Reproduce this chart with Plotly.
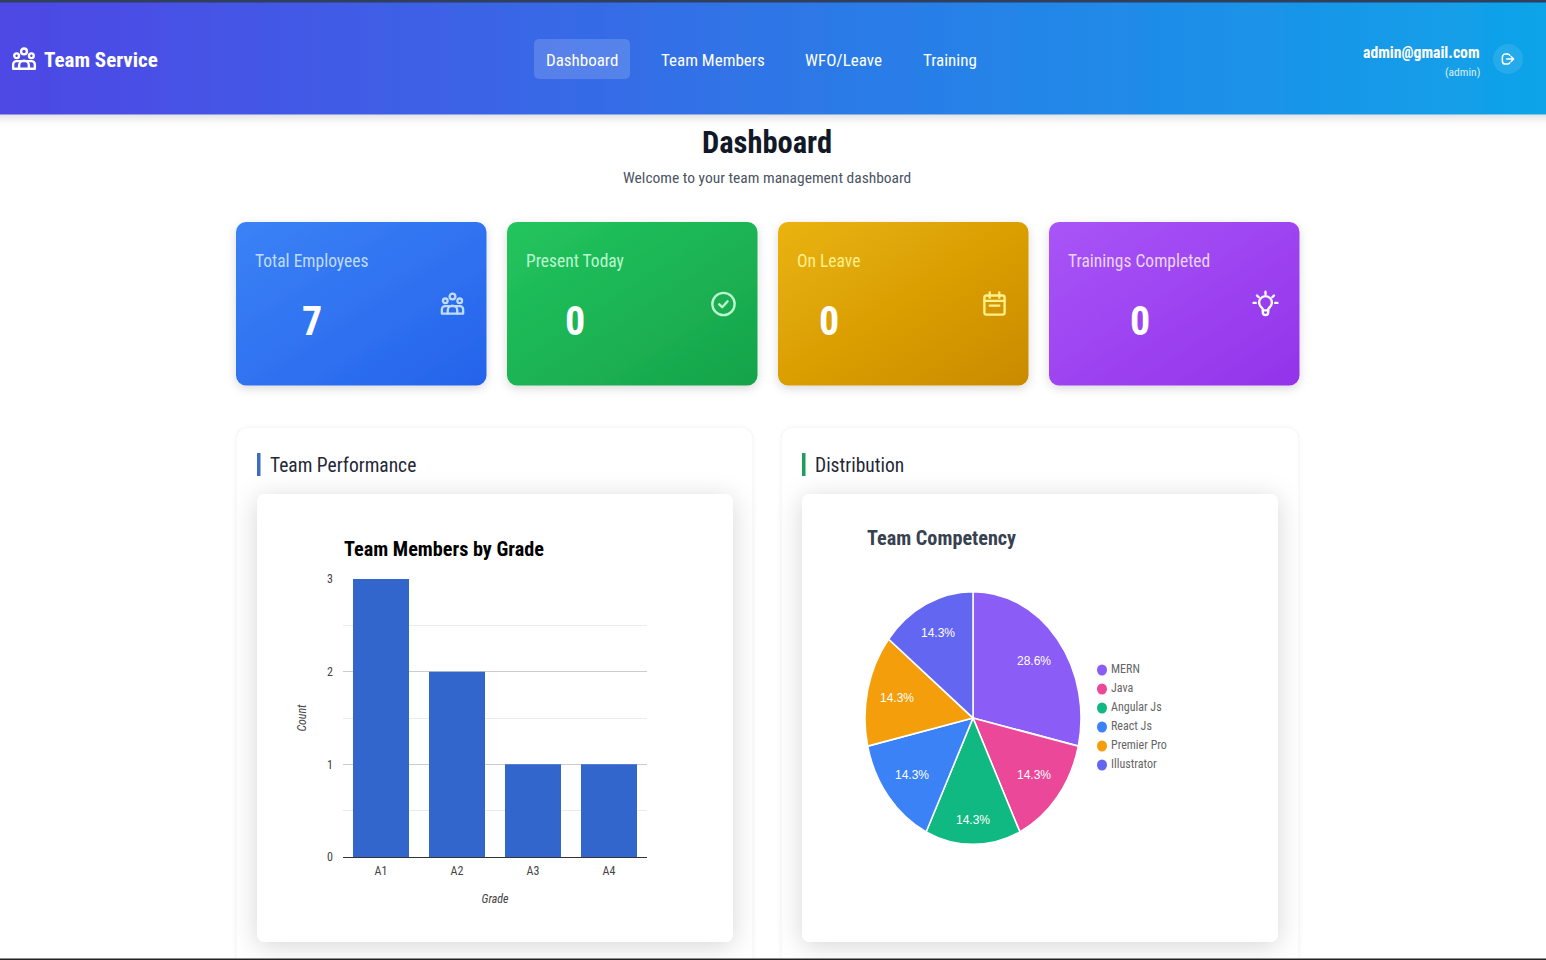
"""Team Service dashboard: bar + pie charts with the page around them."""

import base64
import math

import plotly.graph_objects as go

W, H = 1546, 960

# ---- data ----
GRADES = ["A1", "A2", "A3", "A4"]
GRADE_COUNTS = [3, 2, 1, 1]

SKILLS = ["MERN", "Java", "Angular Js", "React Js", "Premier Pro", "Illustrator"]
SKILL_COUNTS = [2, 1, 1, 1, 1, 1]

NAV_ITEMS = ["Dashboard", "Team Members", "WFO/Leave", "Training"]
STAT_LABELS = ["Total Employees", "Present Today", "On Leave", "Trainings Completed"]
STAT_VALUES = ["7", "0", "0", "0"]

# ---- styles / positions ----
SKILL_COLORS = ["#8B5CF6", "#EC4899", "#10B981", "#3B82F6", "#F59E0B", "#6366F1"]
BAR_COLOR = "#3366CC"

UI_FONT = "Roboto Condensed, Open Sans, sans-serif"
CHART_FONT = "Liberation Sans, Arial, sans-serif"

NAV_X = [582, 713, 844, 950]
CARD_X = [236, 507, 778, 1049]
CARD_NUM_X = [312, 575, 829, 1140]
CARD_GRAD = [("#3B82F6", "#2563EB"), ("#22C55E", "#16A34A"),
             ("#EAB308", "#CA8A04"), ("#A855F7", "#9333EA")]
CARD_TEXT = ["#BFDBFE", "#BBF7D0", "#FEF08A", "#E9D5FF"]
LEGEND_Y = [669, 688, 707, 726, 745, 764]
PIE_CX, PIE_CY, PIE_RX, PIE_RY = 973, 718, 108, 126.5
PIE_LABEL_R = [0.72, 0.72, 0.81, 0.72, 0.72, 0.75]


def fx(px):
    return px / W


def fy(py):
    return 1 - py / H


# ---- icons (24 x 24 box, stroke only) ----
ICON_USERS = ('<circle cx="12" cy="5" r="2.7"/><circle cx="5.2" cy="9" r="2.2"/>'
              '<circle cx="18.8" cy="9" r="2.2"/>'
              '<path d="M2 21v-4a3 3 0 0 1 3-3h14a3 3 0 0 1 3 3v4z"/>'
              '<path d="M7.5 21v-3a4.5 4.5 0 0 1 9 0v3"/>')
ICON_CHECK = '<circle cx="12" cy="12" r="10.5"/><path d="M8 12.3l2.8 2.7 5-5.5"/>'
ICON_CAL = ('<rect x="2.5" y="4" width="19" height="18" rx="2"/>'
            '<path d="M7.5 1v5M16.5 1v5M2.5 9h19M7.5 13.5h9"/>')
ICON_BULB = ('<path d="M8.5 15.5a6 6 0 1 1 7 0c-.8.7-1 1.5-1 2.5h-5c0-1-.2-1.8-1-2.5z"/>'
             '<path d="M9.5 18v2a2.5 2.5 0 0 0 5 0v-2M12 .5v2M4 4l1.5 1.5M20 4l-1.5 1.5'
             'M.8 11h2M21.2 11h2"/>')
ICON_OUT = ('<path d="M11 4H8a5 5 0 0 0-5 5v6a5 5 0 0 0 5 5h3a5 5 0 0 0 4-2"/>'
            '<path d="M15 6a5 5 0 0 0-4-2M10 12h11M17 8l4 4-4 4"/>')


def icon(cx, cy, size, body, color, sw=1.9):
    k = size / 24
    return (f'<g transform="translate({cx - size / 2} {cy - size / 2}) scale({k})" fill="none" '
            f'stroke="{color}" stroke-width="{sw}" stroke-linecap="round" '
            f'stroke-linejoin="round">{body}</g>')


# ---- page background, gradients can't be done with plain shapes ----
def page_svg():
    defs = ['<filter id="s1" x="-20%" y="-20%" width="140%" height="150%">'
            '<feDropShadow dx="0" dy="3" stdDeviation="5" flood-color="#000" flood-opacity="0.15"/></filter>',
            '<filter id="s2" x="-20%" y="-20%" width="140%" height="140%">'
            '<feDropShadow dx="0" dy="4" stdDeviation="13" flood-color="#000" flood-opacity="0.16"/></filter>',
            '<filter id="s3" x="-5%" y="-5%" width="110%" height="110%">'
            '<feDropShadow dx="0" dy="1" stdDeviation="2" flood-color="#000" flood-opacity="0.04"/></filter>',
            '<linearGradient id="nav"><stop offset="0" stop-color="#4F46E5"/>'
            '<stop offset="1" stop-color="#0EA5E9"/></linearGradient>']
    for i, (a, b) in enumerate(CARD_GRAD):
        defs.append(f'<linearGradient id="c{i}" x1="0" y1="0" x2="1" y2="1">'
                    f'<stop offset="0" stop-color="{a}"/><stop offset="1" stop-color="{b}"/></linearGradient>')

    parts = [f'<rect width="{W}" height="{H}" fill="#fff"/>']

    # navbar
    parts.append(f'<rect x="-20" y="2" width="{W + 40}" height="112.5" fill="url(#nav)" filter="url(#s1)"/>')
    parts.append(f'<rect width="{W}" height="2.5" fill="#2F3F5C"/>')
    parts.append('<rect x="534" y="39" width="96" height="40" rx="5" fill="#fff" fill-opacity="0.16"/>')
    parts.append('<circle cx="1508" cy="59" r="15" fill="#fff" fill-opacity="0.1"/>')
    parts.append(icon(24, 59, 26, ICON_USERS, "#fff", 2.2))
    parts.append(icon(1508, 59, 15, ICON_OUT, "#fff", 2.4))

    # stat cards
    icons = [ICON_USERS, ICON_CHECK, ICON_CAL, ICON_BULB]
    for i, x in enumerate(CARD_X):
        parts.append(f'<rect x="{x}" y="222" width="250.5" height="163.5" rx="10" '
                     f'fill="url(#c{i})" filter="url(#s1)"/>')
        parts.append(icon(x + 216.5, 304, 25.5, icons[i], "#fff" if i == 3 else CARD_TEXT[i], 2.2))

    # chart panels
    for x0, x1 in ((236, 753), (781, 1299)):
        parts.append(f'<rect x="{x0}" y="427" width="{x1 - x0}" height="560" rx="12" '
                     f'fill="#fff" stroke="#F3F4F6" filter="url(#s3)"/>')
    for x0, color in ((257, "#3B6BC4"), (802, "#1E9E5A")):
        parts.append(f'<rect x="{x0}" y="453" width="3.5" height="23" fill="{color}"/>')
        parts.append(f'<rect x="{x0}" y="494" width="476" height="448" rx="8" fill="#fff" filter="url(#s2)"/>')

    # dark edge at bottom of the screenshot
    parts.append(f'<rect y="{H - 1.5}" width="{W}" height="1.5" fill="#222"/>')

    svg = (f'<svg xmlns="http://www.w3.org/2000/svg" width="{W}" height="{H}" viewBox="0 0 {W} {H}">'
           f'<defs>{"".join(defs)}</defs>{"".join(parts)}</svg>')
    return "data:image/svg+xml;base64," + base64.b64encode(svg.encode()).decode()


def label(text, x, y, size, color, anchor="left", bold=False, family=UI_FONT):
    return dict(text=f"<b>{text}</b>" if bold else text, x=fx(x), y=fy(y),
                xref="paper", yref="paper", xanchor=anchor, yanchor="middle",
                showarrow=False, font=dict(size=size, color=color, family=family))


# ---- figure ----
fig = go.Figure()

fig.add_trace(go.Bar(
    x=GRADES, y=GRADE_COUNTS, marker=dict(color=BAR_COLOR, line=dict(width=0)),
    showlegend=False, hovertemplate="%{x}: %{y}<extra></extra>",
))

fig.add_trace(go.Pie(
    labels=SKILLS, values=SKILL_COUNTS, sort=False, direction="clockwise", rotation=0,
    marker=dict(colors=SKILL_COLORS, line=dict(color="#fff", width=1.5)),
    textinfo="none",
    domain=dict(x=[fx(PIE_CX - PIE_RX), fx(PIE_CX + PIE_RX)],
                y=[fy(PIE_CY + PIE_RX), fy(PIE_CY - PIE_RX)]),
    showlegend=False,
))

ann = []
ann.append(label("Team Service", 42, 60, 21, "#fff", bold=True))
for item, x in zip(NAV_ITEMS, NAV_X):
    ann.append(label(item, x, 59.5, 17, "#fff", anchor="center"))
ann.append(label("admin@gmail.com", 1482, 52, 15.7, "#fff", anchor="right", bold=True))
ann.append(label("(admin)", 1482, 72, 11.5, "#D8F0FD", anchor="right"))

ann.append(label("Dashboard", 767, 142, 30.5, "#111827", anchor="center", bold=True))
ann.append(label("Welcome to your team management dashboard", 767, 178, 15.5, "#4B5563", anchor="center"))

for i, x in enumerate(CARD_X):
    ann.append(label(STAT_LABELS[i], x + 17, 261, 17.5, CARD_TEXT[i]))
    ann.append(label(STAT_VALUES[i], CARD_NUM_X[i], 321, 40, "#fff", anchor="center", bold=True))

ann.append(label("Team Performance", 268, 466, 19.5, "#1F2937"))
ann.append(label("Distribution", 813, 466, 19.5, "#1F2937"))

ann.append(label("Team Members by Grade", 342, 549, 20.2, "#000", bold=True))
ann.append(label("Team Competency", 865, 538, 20.2, "#374151", bold=True))

# slice labels: angle from the running share, ellipse radius from the picture
total = sum(SKILL_COUNTS)
running = 0
for count, r in zip(SKILL_COUNTS, PIE_LABEL_R):
    mid = (running + count / 2) / total * 2 * math.pi
    running += count
    ann.append(label(f"{count / total:.1%}", PIE_CX + PIE_RX * r * math.sin(mid),
                     PIE_CY - PIE_RY * r * math.cos(mid), 12, "#fff",
                     anchor="center", family=CHART_FONT))

for name, y in zip(SKILLS, LEGEND_Y):
    ann.append(label(name, 1109, y, 12, "#666"))

shapes = [dict(type="circle", xref="paper", yref="paper", x0=fx(1097), x1=fx(1107),
               y0=fy(y + 6.5), y1=fy(y - 4.5), fillcolor=color, line=dict(width=0))
          for color, y in zip(SKILL_COLORS, LEGEND_Y)]

fig.update_layout(
    width=W, height=H,
    margin=dict(l=0, r=0, t=0, b=0),
    paper_bgcolor="rgba(0,0,0,0)", plot_bgcolor="rgba(0,0,0,0)",
    font=dict(family=CHART_FONT),
    bargap=0.263,
    annotations=ann,
    shapes=shapes,
    images=[dict(source=page_svg(), xref="paper", yref="paper", x=0, y=1, sizex=1, sizey=1,
                 xanchor="left", yanchor="top", sizing="stretch", layer="below")],
)
fig.update_xaxes(
    domain=[fx(343), fx(647)], range=[-0.5, 3.5], type="category", automargin=False,
    showline=True, linecolor="#333", linewidth=1.2, showgrid=False, ticks="", zeroline=False,
    ticklabelstandoff=2,
    tickfont=dict(size=12, color="#444", family=UI_FONT),
    title=dict(text="Grade", standoff=18, font=dict(size=12, color="#444", style="italic",
                                                    family=UI_FONT)),
)
fig.update_yaxes(
    domain=[fy(857), fy(579)], range=[0, 3], dtick=1, showgrid=True, gridcolor="#CCCCCC",
    automargin=False,
    minor=dict(dtick=0.5, showgrid=True, gridcolor="#EBEBEB"),
    zeroline=False, showline=False, ticks="", ticklabelstandoff=9,
    tickfont=dict(size=12, color="#444", family=UI_FONT),
    title=dict(text="Count", standoff=17, font=dict(size=12, color="#444", style="italic",
                                                    family=UI_FONT)),
)

# the pie in the screenshot is squashed into an ellipse, plotly only draws circles
POST = f"""
document.body.style.margin = '0';
var gd = document.getElementById('{{plot_id}}');
function stretchPie() {{
    var g = document.querySelector('.pielayer');
    if (g) g.setAttribute('transform',
        'translate({PIE_CX} {PIE_CY}) scale(1 {PIE_RY / PIE_RX:.4f}) translate(-{PIE_CX} -{PIE_CY})');
}}
stretchPie();
if (gd.on) gd.on('plotly_afterplot', stretchPie);
"""

fig.write_html("out.html", post_script=POST, config=dict(displayModeBar=False))
